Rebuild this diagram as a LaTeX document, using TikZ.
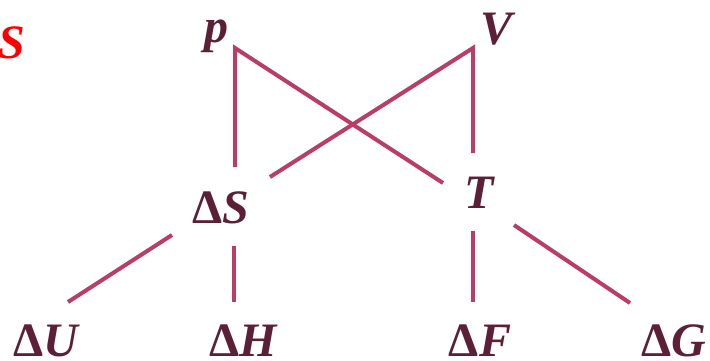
\documentclass[tikz,border=0pt]{standalone}
\usepackage{fontspec}
\setmainfont{Liberation Serif}
\definecolor{lineclr}{HTML}{BA3D68}
\definecolor{txtclr}{HTML}{5C1F38}
\newcommand{\dlt}{\textup{Δ}}
\tikzset{
  lbl/.style={text=txtclr,font=\fontsize{48}{48}\selectfont\bfseries\itshape,inner sep=0pt,anchor=base},
  link/.style={draw=lineclr,line width=4pt}
}
\begin{document}
\begin{tikzpicture}[x=1pt,y=-1pt]
\useasboundingbox (0,0) rectangle (710,361);
\node[lbl,text=red,anchor=base east] (s) at (25,59) {S};
\node[lbl] (p) at (216,43) {p};
\node[lbl] (V) at (497,45) {V};
\node[lbl] (dS) at (221,223) {\dlt S};
\node[lbl] (T) at (479,208) {T};
\node[lbl] (dU) at (46,356) {\dlt U};
\node[lbl] (dH) at (243,356) {\dlt H};
\node[lbl] (dF) at (480,356) {\dlt F};
\node[lbl] (dG) at (674,356) {\dlt G};
\coordinate (p-c) at (235,48);
\coordinate (V-c) at (473,48);
\coordinate (dS-u) at (235,167);
\coordinate (dS-r) at (270,177);
\coordinate (T-u) at (473,153);
\coordinate (T-l) at (443,183);
\coordinate (dS-l) at (172,235);
\coordinate (dS-d) at (234,246);
\coordinate (T-d) at (473,231);
\coordinate (T-r) at (514,225);
\coordinate (dU-t) at (68,302);
\coordinate (dH-t) at (234,302);
\coordinate (dF-t) at (473,302);
\coordinate (dG-t) at (630,303);
\draw[link] (dS-u) -- (p-c) -- (T-l);
\draw[link] (dS-r) -- (V-c) -- (T-u);
\draw[link] (dS-l) -- (dU-t);
\draw[link] (dS-d) -- (dH-t);
\draw[link] (T-d) -- (dF-t);
\draw[link] (T-r) -- (dG-t);
\end{tikzpicture}
\end{document}
